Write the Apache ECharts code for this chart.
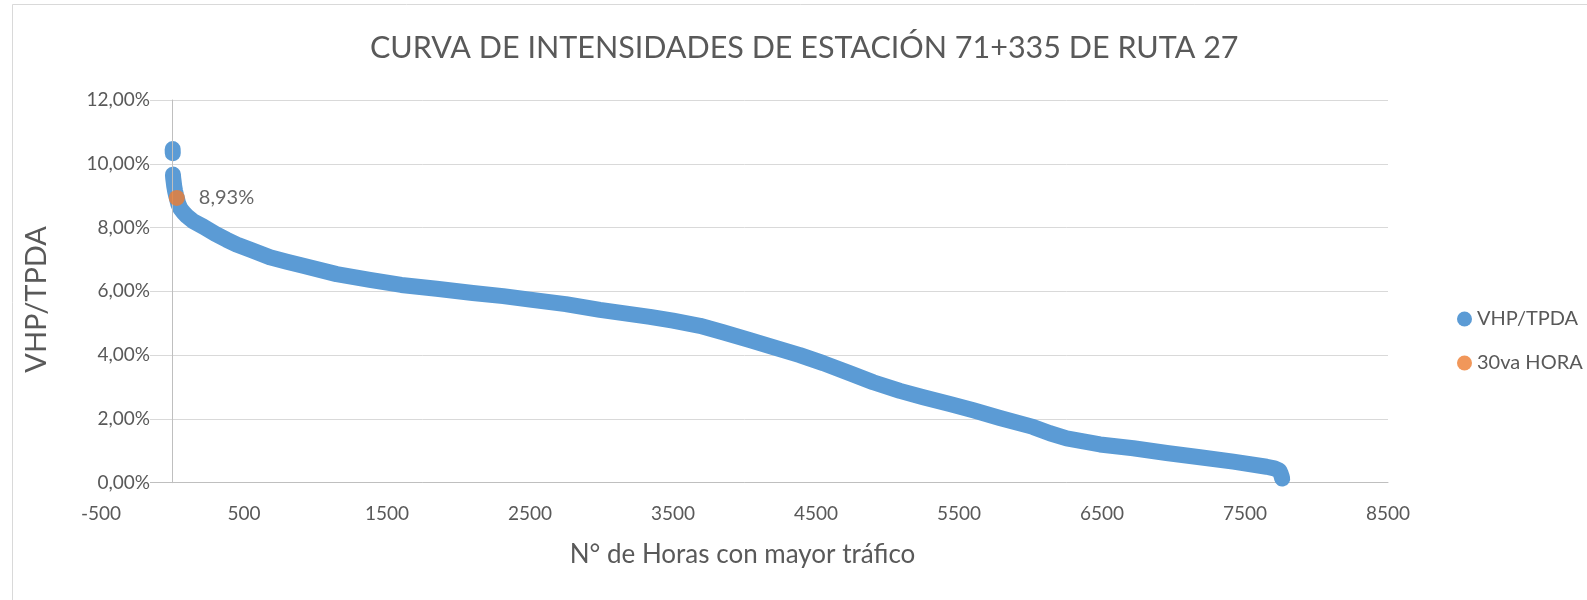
<!DOCTYPE html>
<html>
<head>
<meta charset="utf-8">
<script src="https://cdn.jsdelivr.net/npm/echarts@6.0.0/dist/echarts.min.js"></script>
<style>
html, body { margin: 0; padding: 0; background: #fff; }
#chart { width: 1587px; height: 600px; }
</style>
</head>
<body>
<div id="chart"></div>
<script>
// horas ordenadas de mayor a menor trafico, VHP/TPDA en %
var horas = [1, 2, 3, 5, 8, 12, 18, 24, 30, 40, 55, 75, 100, 145, 215, 300, 378, 448, 550, 681,
    800, 914, 1148, 1380, 1600, 1847, 2100, 2313, 2500, 2750, 2989, 3339, 3500, 3688, 3850, 4038, 4200, 4387, 4550, 4737,
    4900, 5087, 5250, 5436, 5600, 5786, 6017, 6136, 6253, 6486, 6719, 6952, 7185, 7418, 7651, 7705, 7740, 7750, 7756, 7760];
var vhp = [10.46, 10.33, 9.66, 9.55, 9.45, 9.3, 9.15, 9.03, 8.93, 8.75, 8.6, 8.48, 8.36, 8.2, 8.03, 7.8, 7.62, 7.47, 7.3, 7.07,
    6.93, 6.8, 6.54, 6.36, 6.2, 6.08, 5.95, 5.85, 5.74, 5.6, 5.42, 5.2, 5.08, 4.92, 4.72, 4.47, 4.25, 4.0, 3.75, 3.43,
    3.15, 2.88, 2.68, 2.47, 2.27, 2.03, 1.75, 1.55, 1.39, 1.2, 1.08, 0.93, 0.80, 0.66, 0.5, 0.45, 0.38, 0.28, 0.2, 0.13];
var hora30 = [30];
var vhp30 = [8.93];
var nombres = ['VHP/TPDA', '30va HORA'];

var font = 'Lato';
var gris = '#595959';

function pct(v) {
    return v.toFixed(2).replace('.', ',') + '%';
}

// un salto grande entre horas seguidas se ve como hueco en la nube de puntos
var curva = [];
for (var i = 0; i < horas.length; i++) {
    if (i > 0 && vhp[i - 1] - vhp[i] > 0.5) {
        curva.push([horas[i], '-']);
    }
    curva.push([horas[i], vhp[i]]);
}
var punto30 = [];
for (var j = 0; j < hora30.length; j++) {
    punto30.push([hora30[j], vhp30[j]]);
}

var chart = echarts.init(document.getElementById('chart'));
var option = {
    animation: false,
    backgroundColor: '#fff',
    title: {
        text: 'CURVA DE INTENSIDADES DE ESTACIÓN 71+335 DE RUTA 27',
        left: 370,
        top: 33,
        padding: 0,
        textStyle: { fontFamily: font, fontSize: 30.5, fontWeight: 'normal', color: gris }
    },
    graphic: [{
        type: 'rect',
        shape: { x: 12.5, y: 4.5, width: 1600, height: 640 },
        style: { fill: 'none', stroke: '#D9D9D9', lineWidth: 1 },
        silent: true
    }],
    legend: {
        orient: 'vertical',
        left: 1452,
        top: 304,
        itemWidth: 15,
        itemHeight: 15,
        itemGap: 24,
        data: [{ name: nombres[0], icon: 'circle' }, { name: nombres[1], icon: 'circle' }],
        textStyle: { fontFamily: font, fontSize: 20, color: gris }
    },
    grid: {
        left: 101,
        right: 199,
        top: 100,
        bottom: 117.3,
        outerBoundsMode: 'none'
    },
    xAxis: {
        type: 'value',
        min: -500,
        max: 8500,
        interval: 1000,
        name: 'N° de Horas con mayor tráfico',
        nameLocation: 'middle',
        nameGap: 59,
        nameTextStyle: { fontFamily: font, fontSize: 26, color: gris, padding: [0, 4, 0, 0] },
        axisLine: { lineStyle: { color: '#BFBFBF', width: 1 } },
        axisTick: { show: false },
        axisLabel: {
            fontFamily: font, fontSize: 19, color: gris, margin: 22,
            formatter: function (v) { return String(v); }
        },
        splitLine: { show: false }
    },
    yAxis: [{
        type: 'value',
        min: 0,
        max: 12,
        interval: 2,
        z: 3,
        name: 'VHP/TPDA',
        nameLocation: 'middle',
        nameGap: 50,
        nameRotate: 90,
        nameTextStyle: { fontFamily: font, fontSize: 29, color: gris, padding: [0, 16, 0, 0] },
        axisLine: { show: true, onZero: true, lineStyle: { color: '#BFBFBF', width: 1 } },
        axisTick: { show: false },
        axisLabel: {
            fontFamily: font, fontSize: 19, color: gris, margin: -49,
            backgroundColor: '#fff', padding: [3, 0, 3, 10],
            formatter: pct
        },
        splitLine: { show: false }
    }, {
        type: 'value',
        min: 0,
        max: 12,
        interval: 2,
        z: 0,
        axisLine: { show: false, onZero: false },
        axisTick: { show: false },
        axisLabel: { show: false },
        splitLine: { lineStyle: { color: '#D9D9D9', width: 1 } }
    }],
    series: [
        {
            name: nombres[0],
            type: 'line',
            data: curva,
            showSymbol: false,
            symbol: 'circle',
            itemStyle: { color: '#5B9BD5' },
            lineStyle: { color: '#5B9BD5', width: 16, cap: 'round', join: 'round' },
            z: 2
        },
        {
            name: nombres[1],
            type: 'scatter',
            data: punto30,
            symbolSize: 16,
            itemStyle: { color: '#ED7D31' },
            label: {
                show: true,
                position: 'right',
                distance: 14,
                fontFamily: font,
                fontSize: 20,
                color: '#404040',
                formatter: function (p) { return pct(p.value[1]); }
            },
            z: 3
        }
    ]
};
chart.setOption(option);
window.onresize = chart.resize;
</script>
</body>
</html>
